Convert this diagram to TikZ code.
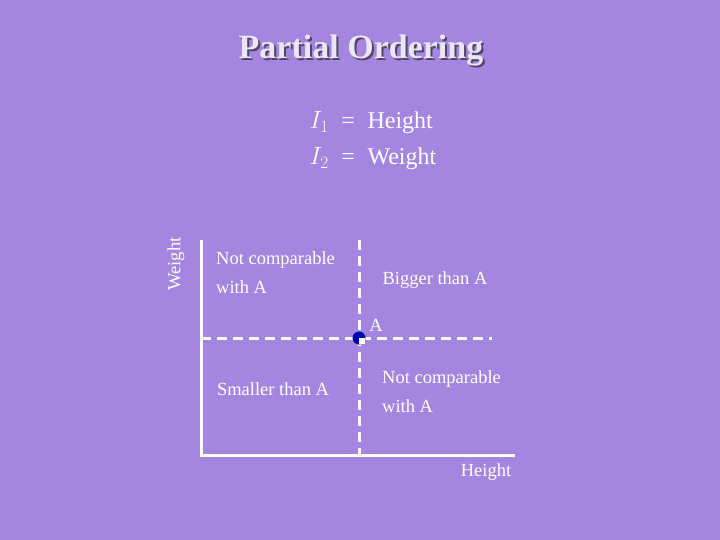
\documentclass[tikz,border=0pt]{standalone}
\usepackage{fontspec}
\setmainfont{Liberation Serif}
\begin{document}
\begin{tikzpicture}[x=1pt,y=-1pt,
  lbl/.style={text=white,font=\fontsize{18.5}{29}\selectfont,align=left,inner sep=0pt},
  dashline/.style={white,line width=3pt,dash pattern=on 10pt off 6pt},
  axis/.style={white,line width=3pt}]
\fill[fill={rgb,255:red,164;green,134;blue,224}] (0,0) rectangle (720,540);
\useasboundingbox (0,0) rectangle (720,540);
\node (shadow) [text={rgb,255:red,80;green,70;blue,100},font=\bfseries\fontsize{34}{38}\selectfont] at (363,52) {Partial Ordering};
\node (title) [text={rgb,255:red,235;green,230;blue,245},font=\bfseries\fontsize{34}{38}\selectfont] at (361,50) {Partial Ordering};
\node (i1) [text=white,font=\fontsize{24}{28}\selectfont,anchor=west] at (306,123) {$I_1$ \;=\; Height};
\node (i2) [text=white,font=\fontsize{24}{28}\selectfont,anchor=west] at (306,159) {$I_2$ \;=\; Weight};
\coordinate (o) at (201,455);
\coordinate (yt) at (201,240);
\coordinate (xe) at (515,455);
\coordinate (A) at (359,338);
\coordinate (hl) at (201,338);
\coordinate (hr) at (492,338);
\coordinate (vt) at (359,240);
\coordinate (vb) at (359,455);
\draw[dashline] (hl) -- (hr);
\draw[dashline] (vt) -- (vb);
\draw[axis] (yt) -- (o) -- (xe);
\fill[blue!70!black] (A) circle (6.5);
\fill[white] (A) rectangle ++(5.5,5.5);
\node (w) [lbl,rotate=90] at (176,264) {Weight};
\node (h) [lbl] at (486,472) {Height};
\node (nc1) [lbl,anchor=west] at (216,273) {Not comparable\\with A};
\node (big) [lbl] at (435,280) {Bigger than A};
\node (a) [lbl] at (376,325) {A};
\node (sm) [lbl] at (273,389) {Smaller than A};
\node (nc2) [lbl,anchor=west] at (382,392) {Not comparable\\with A};
\end{tikzpicture}
\end{document}
